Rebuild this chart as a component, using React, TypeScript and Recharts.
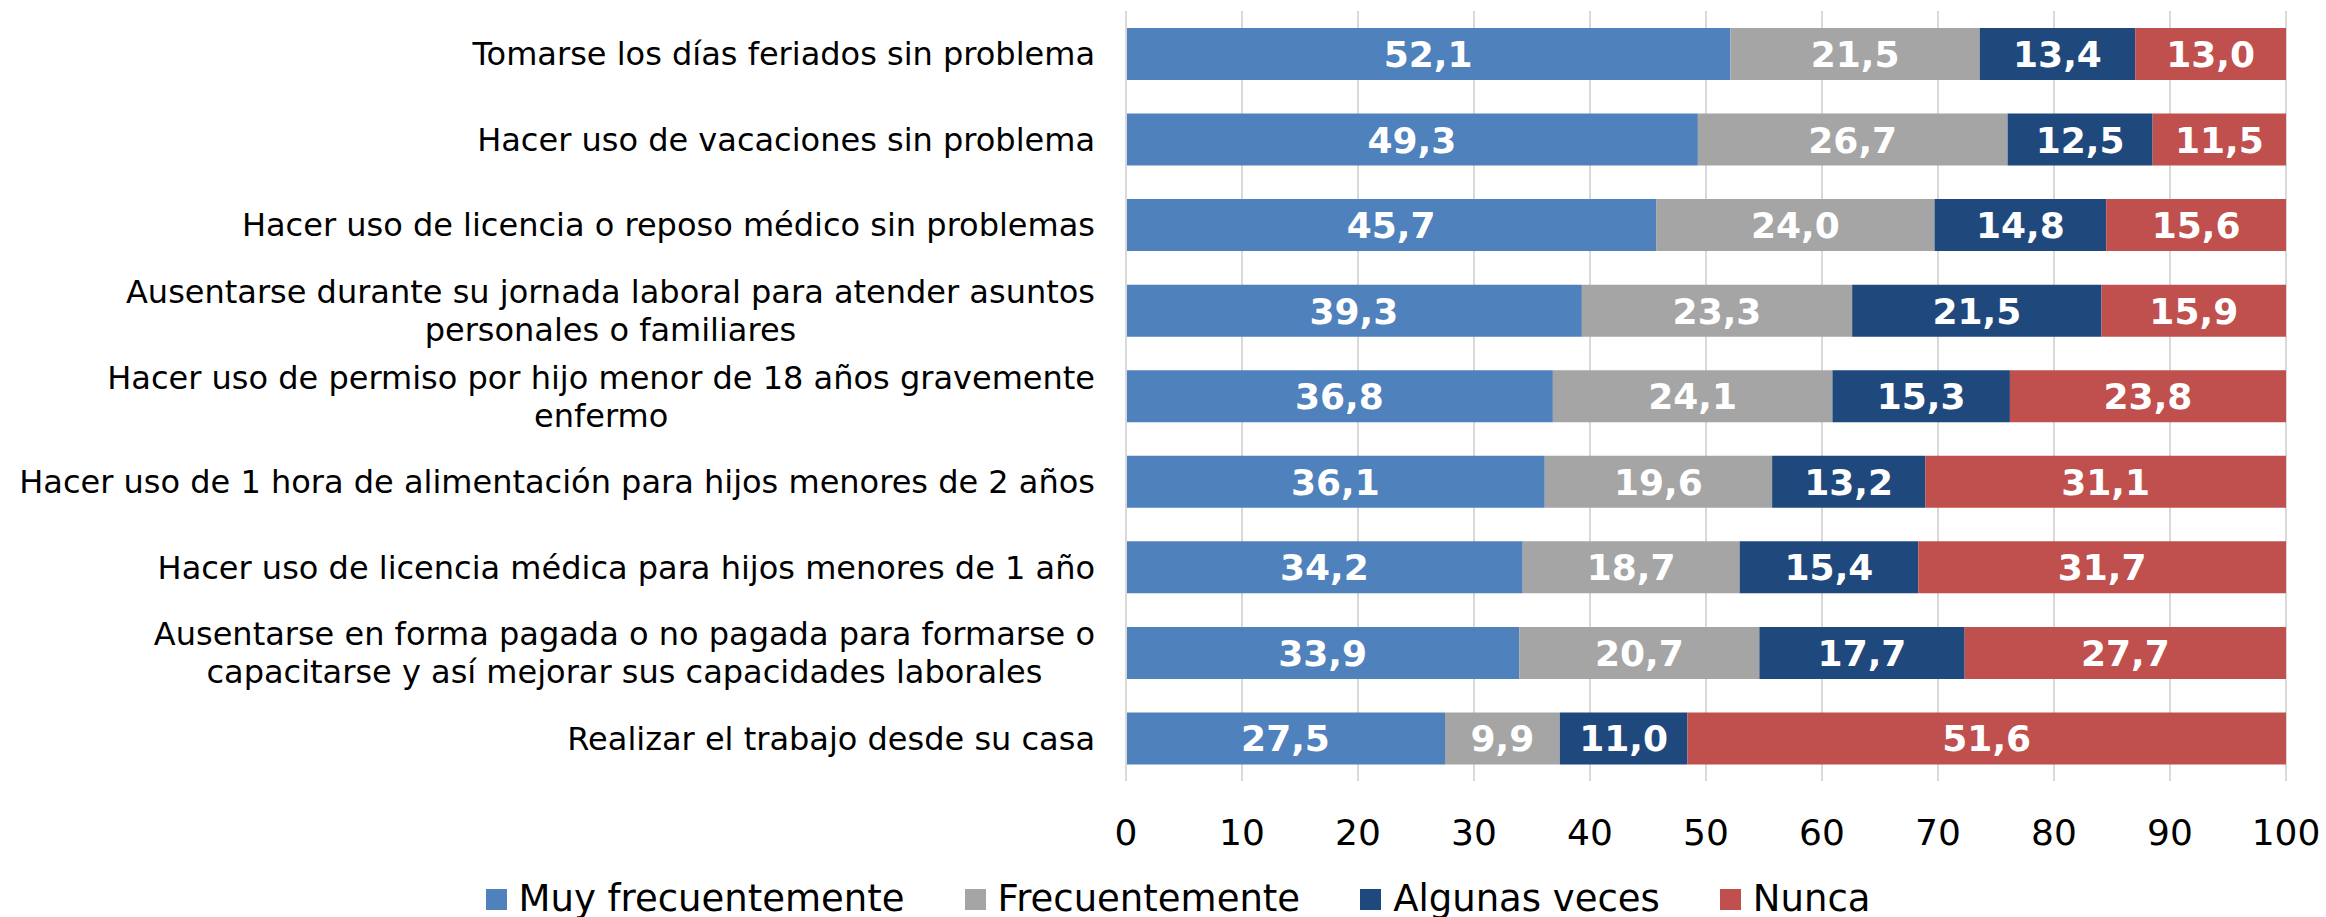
import React from 'react';
import { BarChart, Bar, XAxis, YAxis, CartesianGrid, Legend, LabelList } from 'recharts';

const categories = [
  'Tomarse los días feriados sin problema',
  'Hacer uso de vacaciones sin problema',
  'Hacer uso de licencia o reposo médico sin problemas',
  'Ausentarse durante su jornada laboral para atender asuntos\npersonales o familiares',
  'Hacer uso de permiso por hijo menor de 18 años gravemente\nenfermo',
  'Hacer uso de 1 hora de alimentación para hijos menores de 2 años',
  'Hacer uso de licencia médica para hijos menores de 1 año',
  'Ausentarse en forma pagada o no pagada para formarse o\ncapacitarse y así mejorar sus capacidades laborales',
  'Realizar el trabajo desde su casa',
];

const muyFrecuentemente = [52.1, 49.3, 45.7, 39.3, 36.8, 36.1, 34.2, 33.9, 27.5];
const frecuentemente = [21.5, 26.7, 24.0, 23.3, 24.1, 19.6, 18.7, 20.7, 9.9];
const algunasVeces = [13.4, 12.5, 14.8, 21.5, 15.3, 13.2, 15.4, 17.7, 11.0];
const nunca = [13.0, 11.5, 15.6, 15.9, 23.8, 31.1, 31.7, 27.7, 51.6];

const xTicks = [0, 10, 20, 30, 40, 50, 60, 70, 80, 90, 100];

const seriesKeys = ['muy', 'frec', 'algunas', 'nunca'];
const seriesNames = ['Muy frecuentemente', 'Frecuentemente', 'Algunas veces', 'Nunca'];
const seriesColors = ['#4F81BD', '#A5A5A5', '#1F497D', '#C0504D'];

const data = categories.map((c, i) => ({
  cat: c,
  muy: muyFrecuentemente[i],
  frec: frecuentemente[i],
  algunas: algunasVeces[i],
  nunca: nunca[i],
}));

const FONT = '"DejaVu Sans", Verdana, sans-serif';
const CAT_SIZE = 32;
const LINE_H = 38;

let measureCtx: CanvasRenderingContext2D | null = null;
function measure(text: string, size: number): number {
  if (!measureCtx) {
    const c = document.createElement('canvas');
    measureCtx = c.getContext('2d');
  }
  if (!measureCtx) return text.length * size * 0.6;
  measureCtx.font = `${size}px "DejaVu Sans"`;
  return measureCtx.measureText(text).width;
}

const CategoryTick = (props: any) => {
  const { x, y, payload } = props;
  const lines: string[] = String(payload.value).split('\n');
  const right = x - 31;
  const widths = lines.map((l) => measure(l, CAT_SIZE));
  const blockW = Math.max(...widths);
  const cx = right - blockW / 2;
  const n = lines.length;
  const baseOffset = CAT_SIZE * 0.36;
  return (
    <g>
      {lines.map((l, i) => {
        const lineCenter = y + (i - (n - 1) / 2) * LINE_H;
        return (
          <text
            key={i}
            x={n > 1 ? cx : right}
            y={lineCenter + baseOffset}
            textAnchor={n > 1 ? 'middle' : 'end'}
            fontFamily={FONT}
            fontSize={CAT_SIZE}
            fill="#000000"
          >
            {l}
          </text>
        );
      })}
    </g>
  );
};

const ValueTick = (props: any) => {
  const { x, y, payload } = props;
  return (
    <text x={x} y={y + 64} textAnchor="middle" fontFamily={FONT} fontSize={36} fill="#000000">
      {payload.value}
    </text>
  );
};

const renderValueLabel = (props: any) => {
  const { x, y, width, height, value } = props;
  const txt = Number(value).toFixed(1).replace('.', ',');
  return (
    <text
      x={Number(x) + Number(width) / 2}
      y={Number(y) + Number(height) / 2 + 13}
      textAnchor="middle"
      fontFamily={FONT}
      fontWeight="bold"
      fontSize={36}
      fill="#FFFFFF"
    >
      {txt}
    </text>
  );
};

const LegendContent = () => (
  <div
    style={{
      display: 'flex',
      justifyContent: 'center',
      alignItems: 'center',
      fontFamily: FONT,
      fontSize: 37,
      color: '#000',
      whiteSpace: 'nowrap',
      paddingLeft: 30,
    }}
  >
    {seriesNames.map((n, i) => (
      <div key={n} style={{ display: 'flex', alignItems: 'center', marginRight: i < seriesNames.length - 1 ? 60 : 0 }}>
        <div style={{ width: 21, height: 21, background: seriesColors[i], marginRight: 12 }} />
        <span style={{ lineHeight: '44px' }}>{n}</span>
      </div>
    ))}
  </div>
);

export default function App() {
  return (
    <div style={{ position: 'absolute', left: 0, top: 0, width: 2326, height: 917, background: '#fff' }}>
      <BarChart
        width={2326}
        height={917}
        data={data}
        layout="vertical"
        margin={{ top: 11, right: 40, bottom: 76, left: 0 }}
        barSize={52}
      >
        <CartesianGrid horizontal={false} vertical={true} stroke="#D9D9D9" strokeWidth={2} />
        <XAxis
          type="number"
          domain={[0, 100]}
          ticks={xTicks}
          allowDataOverflow={true}
          axisLine={false}
          tickLine={false}
          tickSize={0}
          tickMargin={0}
          height={60}
          tick={<ValueTick />}
          interval={0}
        />
        <YAxis
          type="category"
          dataKey="cat"
          width={1126}
          axisLine={{ stroke: '#D9D9D9', strokeWidth: 2 }}
          tickLine={false}
          tickSize={0}
          tickMargin={0}
          tick={<CategoryTick />}
          interval={0}
        />
        <Legend
          layout="horizontal"
          verticalAlign="middle"
          align="center"
          wrapperStyle={{ position: 'absolute', left: 0, top: 877, width: 2326 }}
          content={<LegendContent />}
        />
        {seriesKeys.map((k, i) => (
          <Bar key={k} dataKey={k} name={seriesNames[i]} stackId="a" fill={seriesColors[i]} isAnimationActive={false}>
            <LabelList dataKey={k} content={renderValueLabel} />
          </Bar>
        ))}
      </BarChart>
    </div>
  );
}
